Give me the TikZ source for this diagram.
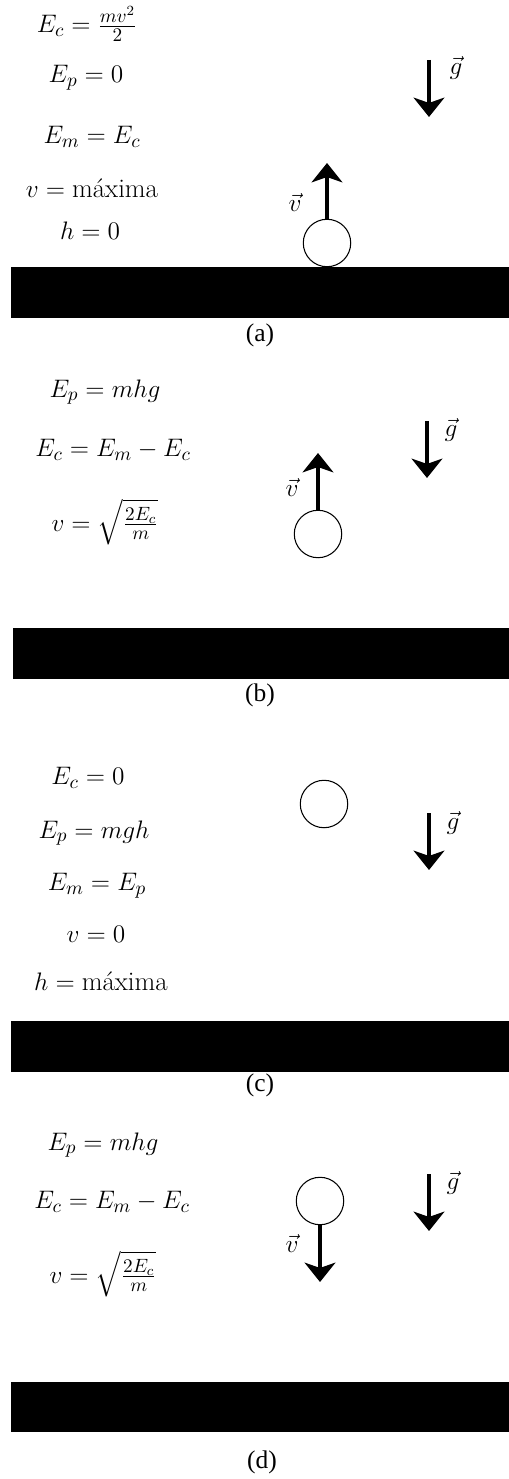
\documentclass[tikz,border=0pt]{standalone}
\usepackage{amsmath}
\usepackage{fontspec}
\newfontfamily\capfont{Liberation Serif}
\usetikzlibrary{arrows.meta}

\begin{document}
\begin{tikzpicture}[x=0.02cm, y=0.02cm,
    eqn/.style={font=\fontsize{15.3}{18}\selectfont, inner sep=0pt},
    veclabel/.style={font=\fontsize{15.3}{18}\selectfont, inner sep=0pt},
    ball/.style={circle, draw, line width=0.6pt, minimum size=27pt, inner sep=0pt},
    vecarrow/.style={line width=2.4pt, -{Stealth[length=11pt, width=17.5pt, inset=3pt]}},
    caption/.style={font=\capfont\fontsize{14.5}{17}\selectfont, inner sep=0pt}]
    \useasboundingbox (0,-1479) rectangle (509,0);

    % (a) ball on the ground, going up
    \begin{scope}[shift={(0,-267)}]
        \fill (11,0) rectangle (509,-51);
        \node[eqn] (ecA) at (87,243) {$E_c=\frac{mv^2}{2}$};
        \node[eqn] (epA) at (86,189) {$E_p=0$};
        \node[eqn] (emA) at (92,130) {$E_m=E_c$};
        \node[eqn] (vA) at (92,79) {$v=\text{máxima}$};
        \node[eqn] (hA) at (90,36) {$h=0$};

        \node[ball] (ballA) at (327,24) {};
        \coordinate (vtipA) at (327,104);
        \draw[vecarrow] (ballA) -- (vtipA);
        \node[veclabel] (vlabA) at (295,65) {$\vec{v}$};

        \coordinate (gtopA) at (429,207);
        \coordinate (gtipA) at (429,150);
        \draw[vecarrow] (gtopA) -- (gtipA);
        \node[veclabel] (glabA) at (456,199) {$\vec{g}$};

        \node[caption] (capA) at (260,-68) {(a)};
    \end{scope}

    % (b) on the way up
    \begin{scope}[shift={(0,-628)}]
        \fill (13,0) rectangle (509,-51);
        \node[eqn] (epB) at (105,236) {$E_p=mhg$};
        \node[eqn] (ecB) at (113,178) {$E_c=E_m-E_c$};
        \node[eqn] (vB) at (105,106) {$v=\sqrt{\frac{2E_c}{m}}$};

        \node[ball] (ballB) at (318,94) {};
        \coordinate (vtipB) at (318,175);
        \draw[vecarrow] (ballB) -- (vtipB);
        \node[veclabel] (vlabB) at (292,141) {$\vec{v}$};

        \coordinate (gtopB) at (427,207);
        \coordinate (gtipB) at (427,150);
        \draw[vecarrow] (gtopB) -- (gtipB);
        \node[veclabel] (glabB) at (451,198) {$\vec{g}$};

        \node[caption] (capB) at (260,-67) {(b)};
    \end{scope}

    % (c) highest point
    \begin{scope}[shift={(0,-1021)}]
        \fill (11,0) rectangle (509,-51);
        \node[eqn] (ecC) at (88,243) {$E_c=0$};
        \node[eqn] (epC) at (94,188) {$E_p=mgh$};
        \node[eqn] (emC) at (97,135) {$E_m=E_p$};
        \node[eqn] (vC) at (96,87) {$v=0$};
        \node[eqn] (hC) at (101,40) {$h=\text{máxima}$};

        \node[ball] (ballC) at (324,217) {};

        \coordinate (gtopC) at (429,208);
        \coordinate (gtipC) at (429,151);
        \draw[vecarrow] (gtopC) -- (gtipC);
        \node[veclabel] (glabC) at (453,198) {$\vec{g}$};

        \node[caption] (capC) at (260,-64) {(c)};
    \end{scope}

    % (d) on the way down
    \begin{scope}[shift={(0,-1382)}]
        \fill (11,0) rectangle (509,-50);
        \node[eqn] (epD) at (103,237) {$E_p=mhg$};
        \node[eqn] (ecD) at (112,180) {$E_c=E_m-E_c$};
        \node[eqn] (vD) at (103,108) {$v=\sqrt{\frac{2E_c}{m}}$};

        \node[ball] (ballD) at (320,181) {};
        \coordinate (vtipD) at (320,100);
        \draw[vecarrow] (ballD) -- (vtipD);
        \node[veclabel] (vlabD) at (292,139) {$\vec{v}$};

        \coordinate (gtopD) at (429,208);
        \coordinate (gtipD) at (429,151);
        \draw[vecarrow] (gtopD) -- (gtipD);
        \node[veclabel] (glabD) at (453,199) {$\vec{g}$};

        \node[caption] (capD) at (262,-80) {(d)};
    \end{scope}
\end{tikzpicture}
\end{document}
